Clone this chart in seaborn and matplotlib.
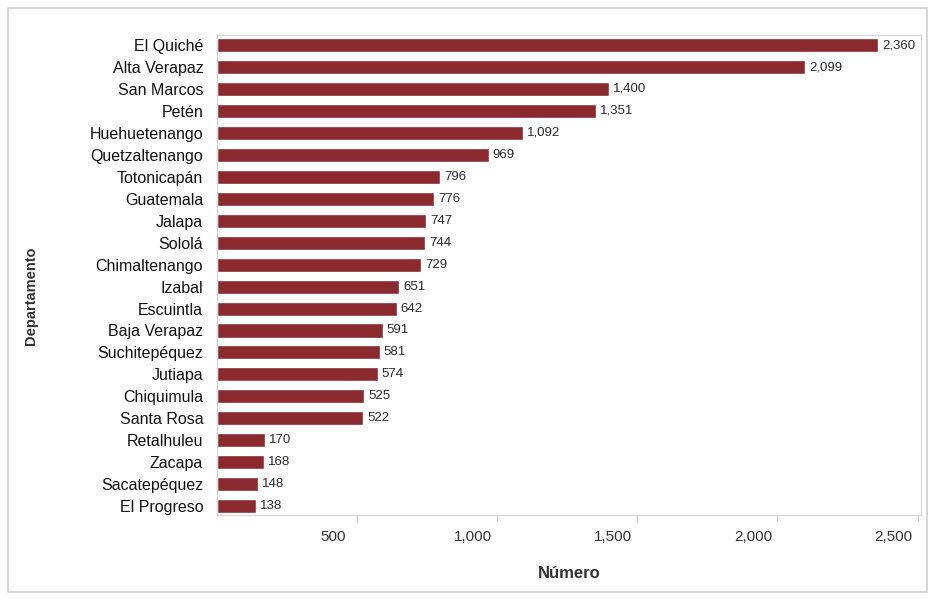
import matplotlib
matplotlib.use("Agg")
import matplotlib.pyplot as plt
import seaborn as sns
import pandas as pd

departamentos = [
    "El Quiché", "Alta Verapaz", "San Marcos", "Petén", "Huehuetenango",
    "Quetzaltenango", "Totonicapán", "Guatemala", "Jalapa", "Sololá",
    "Chimaltenango", "Izabal", "Escuintla", "Baja Verapaz", "Suchitepéquez",
    "Jutiapa", "Chiquimula", "Santa Rosa", "Retalhuleu", "Zacapa",
    "Sacatepéquez", "El Progreso",
]
numero = [2360, 2099, 1400, 1351, 1092, 969, 796, 776, 747, 744, 729, 651,
          642, 591, 581, 574, 525, 522, 170, 168, 148, 138]
xticks = [500, 1000, 1500, 2000, 2500]
xticklabels = ["500", "1,000", "1,500", "2,000", "2,500"]

df = pd.DataFrame({"Departamento": departamentos, "Número": numero})

sns.set_theme(style="white")
plt.rcParams["font.family"] = ["Liberation Sans", "DejaVu Sans"]

fig = plt.figure(figsize=(9.33, 5.99), dpi=100)
ax = fig.add_axes([0.2326, 0.140, 0.7544, 0.8016])

sns.barplot(data=df, x="Número", y="Departamento", color="#8a2a2f",
            saturation=1, width=0.64, orient="h", ax=ax)

for i, v in enumerate(numero):
    ax.text(v + 14, i, f"{v:,}", va="center", ha="left", fontsize=9.5,
            color="#2a2a2a")

ax.set_xlim(0, 2512)
ax.set_ylim(len(numero) - 0.59, -0.46)
ax.set_xticks(xticks)
ax.set_xticklabels([])
# tick labels are set a little to the left of their tick marks
for t, s in zip(xticks, xticklabels):
    ax.annotate(s, xy=(t, 0), xycoords=ax.get_xaxis_transform(),
                xytext=(-24, -15), textcoords="offset pixels",
                ha="center", va="top", fontsize=11, color="#333333")

ax.tick_params(axis="y", labelsize=11.5, length=0, pad=10, colors="#111111")
ax.tick_params(axis="x", length=4, width=0.8, color="#cccccc", pad=7,
               bottom=True)
ax.set_xlabel("Número", fontsize=12, fontweight="bold", color="#333333")
ax.set_ylabel("Departamento", fontsize=10.5, fontweight="bold",
              color="#333333")
ax.xaxis.set_label_coords(0.5, -0.106)
ax.yaxis.set_label_coords(-0.255, 0.457)
for side in ["top", "right", "bottom", "left"]:
    ax.spines[side].set_visible(True)
    ax.spines[side].set_color("#d6d6d6")
    ax.spines[side].set_linewidth(0.9)

# light frame around the whole figure
fig.patches.append(plt.Rectangle((0.009, 0.012), 0.985, 0.975,
                                 transform=fig.transFigure, fill=False,
                                 edgecolor="#cfcfcf", linewidth=1.2))

fig.savefig("out.png", dpi=100)
